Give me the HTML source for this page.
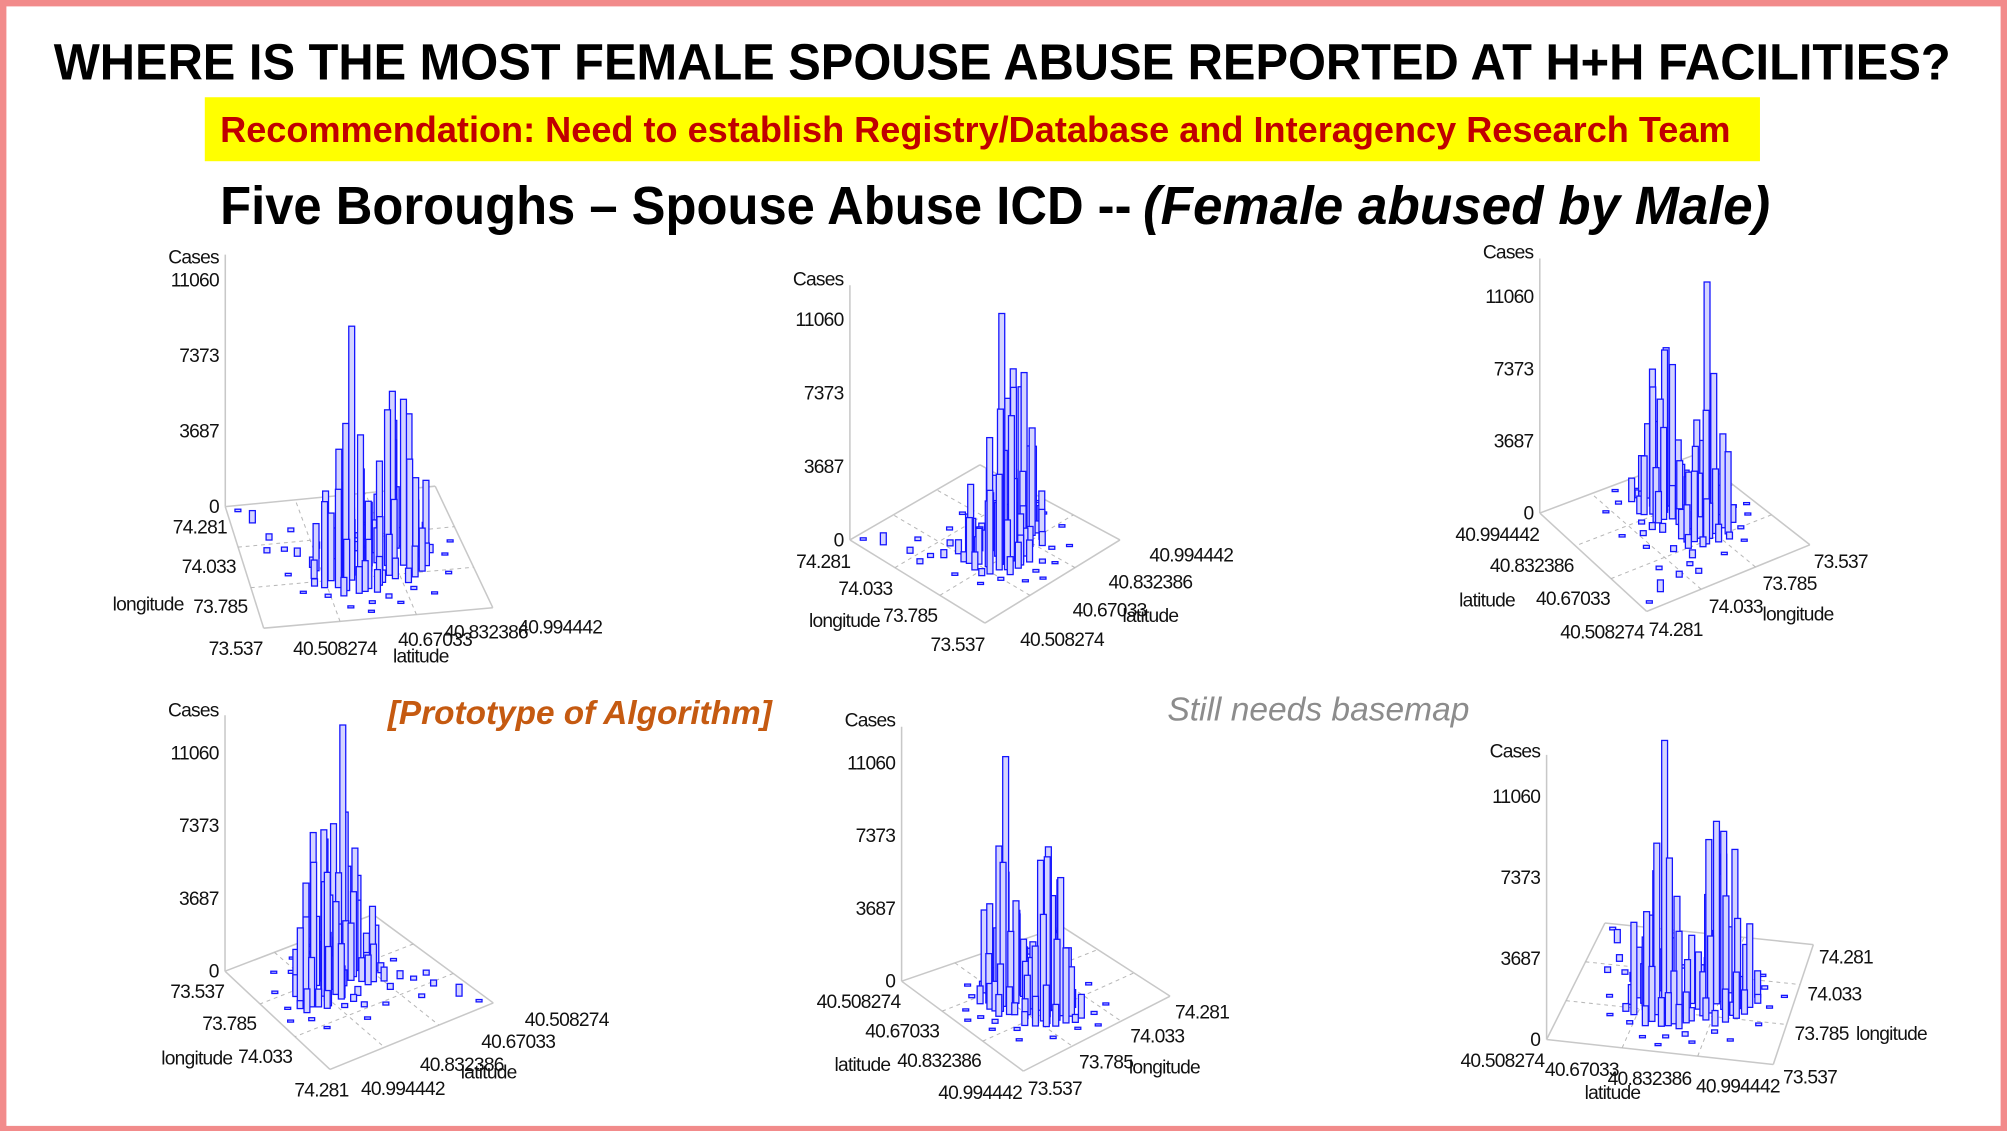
<!DOCTYPE html>
<html><head><meta charset="utf-8"><style>
html,body{margin:0;padding:0;background:#f28b8b;}
svg{display:block;}
</style></head><body>
<svg id="s" width="2007" height="1131" viewBox="0 0 1568 884" preserveAspectRatio="none" xmlns="http://www.w3.org/2000/svg" font-family="Liberation Sans, Arial, sans-serif">
<rect x="0" y="0" width="1568" height="884" fill="#f28b8b"/>
<rect x="5" y="5" width="1558" height="875" fill="#ffffff"/>
<text x="42" y="62" font-size="40" font-weight="bold" textLength="1482" lengthAdjust="spacingAndGlyphs" fill="#000">WHERE IS THE MOST FEMALE SPOUSE ABUSE REPORTED AT H+H FACILITIES?</text>
<rect x="160" y="76" width="1215" height="50" fill="#ffff00"/>
<text x="172" y="111" font-size="28" font-weight="bold" textLength="1180" lengthAdjust="spacingAndGlyphs" fill="#c00000">Recommendation: Need to establish Registry/Database and Interagency Research Team</text>
<text x="172" y="175" font-size="42" font-weight="bold" textLength="712" lengthAdjust="spacingAndGlyphs" fill="#000">Five Boroughs – Spouse Abuse ICD --</text>
<text x="893" y="175" font-size="42" font-weight="bold" font-style="italic" textLength="490" lengthAdjust="spacingAndGlyphs" fill="#000">(Female abused by Male)</text>
<text x="303" y="566" font-size="26" font-weight="bold" font-style="italic" textLength="300" lengthAdjust="spacingAndGlyphs" fill="#c55a11">[Prototype of Algorithm]</text>
<text x="912" y="563" font-size="26" font-style="italic" textLength="236" lengthAdjust="spacingAndGlyphs" fill="#8c8c8c">Still needs basemap</text>
<g id="charts"></g>
</svg>
<script>
const lat = [40.727,40.712,40.742,40.703,40.751,40.693,40.722,40.761,40.683,40.737,40.708,40.771,40.674,40.746,40.717,40.698,40.781,40.732,40.688,40.766,
40.829,40.849,40.815,40.868,40.839,40.858,40.805,40.878,40.824,40.849,40.888,40.810,40.863,40.897,40.834,40.795,40.873,
40.557,40.581,40.606,40.630,40.644,40.654,40.664,40.615,40.596,40.790,40.810,40.921,40.946,40.936,40.907,40.776,40.800,40.727,40.678,40.703,40.742,40.849,40.888,40.970,40.533,40.567,40.635,40.761,40.785,40.819,40.669,40.649,40.790,40.917,40.751,
40.664,40.684,40.756,40.776,40.693,40.732,40.795,40.903,40.883,40.800,40.858,40.912,40.820,40.844,40.659,40.712,40.771,40.873,40.805];
const lon = [73.775,73.760,73.745,73.805,73.797,73.738,73.835,73.760,73.783,73.850,73.716,73.820,73.820,73.701,73.879,73.686,73.730,73.805,73.850,73.864,
73.864,73.835,73.842,73.879,73.909,73.805,73.894,73.849,73.805,73.939,73.909,73.783,73.760,73.820,73.879,73.864,73.924,
74.169,74.058,73.983,73.946,73.760,73.872,73.686,73.723,73.835,73.649,73.611,73.983,73.872,73.760,74.058,74.021,74.095,74.058,73.983,73.611,73.574,73.686,73.649,73.946,74.244,73.983,74.095,73.946,73.969,73.983,73.924,73.805,73.745,73.894,73.626,
73.745,73.880,73.716,73.850,73.905,73.693,73.820,73.864,73.790,73.924,73.950,73.930,73.760,73.730,73.850,73.910,73.690,73.805,73.930];
const cases = [12400,7800,7300,6200,5200,4800,4300,3900,3300,2900,2500,2200,1800,1500,1200,900,1400,2700,1100,800,
8300,8100,7600,7000,6500,5400,4700,4100,3500,3000,2500,2000,1500,1100,5800,1700,900,
600,300,200,400,350,500,150,100,120,200,100,150,100,120,100,250,120,150,300,100,80,150,100,90,120,250,180,450,350,200,700,900,600,400,130,
4200,3600,2400,3100,1900,1300,2600,3800,2100,1600,900,1200,1000,700,2300,1500,1100,600,2800];
const latTicks = ["40.508274","40.67033","40.832386","40.994442"];
const lonTicks = ["73.537","73.785","74.033","74.281"];
const caseTicks = [0,3687,7373,11060];
const caseTickLabels = ["0","3687","7373","11060"];
const LATMIN = 40.508274, LATMAX = 40.994442, LONMIN = 73.537, LONMAX = 74.281, CMAX = 11060;

const views = [
 {p00:[206,491],p10:[385,475],p01:[176,396],p11:[340,380],ax:'p01',H:177,top:199,casesY:201,
  latPos:[[229,507],[311,500],[347,494],[405,490]],latT:[307,513],lonPos:[[163,507],[151,474],[142,443],[135,412]],lonT:[88,472]},
 {p00:[769.5,487],p10:[875,422],p01:[664,422],p11:[765.6,363.3],ax:'p01',H:172,top:223,casesY:218,
  latPos:[[797,500],[838,477],[866,455],[898,434]],latT:[877,481],lonPos:[[727,504],[690,481],[655,460],[622,439]],lonT:[632,485]},
 {p00:[1414,425.8],p10:[1324,355.5],p01:[1286.5,477.9],p11:[1203,401],ax:'p11',H:169,top:202,casesY:197,
  latPos:[[1219,494],[1200,468],[1164,442],[1137,418]],latT:[1140,469],lonPos:[[1417,439],[1377,456],[1335,474],[1288,492]],lonT:[1377,480]},
 {p00:[291.6,714.8],p10:[175.8,759.1],p01:[385.4,783.9],p11:[257.8,835.9],ax:'p10',H:170.6,top:559,casesY:555,
  latPos:[[410,797],[376,814],[328,832],[282,851]],latT:[360,838],lonPos:[[133,775],[158,800],[186,826],[230,852]],lonT:[126,827]},
 {p00:[704.4,766.9],p10:[799.5,837.2],p01:[829.4,724],p11:[914.1,778.6],ax:'p00',H:170.5,top:568,casesY:563,
  latPos:[[638,783],[676,806],[701,829],[733,854]],latT:[652,832],lonPos:[[803,851],[843,830],[883,810],[918,791]],lonT:[882,834]},
 {p00:[1208.3,812.5],p10:[1385.4,832],p01:[1253.9,721.4],p11:[1416.7,738.3],ax:'p00',H:190,top:590,casesY:587,
  latPos:[[1141,829],[1207,836],[1256,843],[1325,849]],latT:[1238,854],lonPos:[[1393,842],[1402,808],[1412,777],[1421,748]],lonT:[1450,808]}
];
const NS = "http://www.w3.org/2000/svg";
const root = document.getElementById('charts');
function mk(tag, attrs, parent){const e=document.createElementNS(NS,tag);for(const k in attrs)e.setAttribute(k,attrs[k]);parent.appendChild(e);return e;}
function proj(v,u,w){const a=v.p00,b=v.p10,c=v.p01,d=v.p11;
 return [a[0]*(1-u)*(1-w)+b[0]*u*(1-w)+c[0]*(1-u)*w+d[0]*u*w, a[1]*(1-u)*(1-w)+b[1]*u*(1-w)+c[1]*(1-u)*w+d[1]*u*w];}
function xu(la){return (la-LATMIN)/(LATMAX-LATMIN);}
function xv(lo){return (lo-LONMIN)/(LONMAX-LONMIN);}
function hy(v,c){return c/CMAX*v.H;}

views.forEach((v,ci)=>{
 const g = mk('g',{},root);
 
 
 const corner = v[v.ax];
 const edges=[[[0,0],[1,0]],[[1,0],[1,1]],[[1,1],[0,1]],[[0,1],[0,0]]];
 edges.forEach(e=>{const A=proj(v,e[0][0],e[0][1]),B=proj(v,e[1][0],e[1][1]);
  const l=mk('line',{x1:A[0],y1:A[1],x2:B[0],y2:B[1],stroke:'#c8c8c8','stroke-width':1.2},g);
  
  });
 [1/3,2/3].forEach(f=>{
  let A=proj(v,f,0),B=proj(v,f,1);
  let l=mk('line',{x1:A[0],y1:A[1],x2:B[0],y2:B[1],stroke:'#b8b8b8','stroke-width':0.8,'stroke-dasharray':'3,3'},g);
  
  
  A=proj(v,0,f);B=proj(v,1,f);
  l=mk('line',{x1:A[0],y1:A[1],x2:B[0],y2:B[1],stroke:'#b8b8b8','stroke-width':0.8,'stroke-dasharray':'3,3'},g);
  
  
 });
 const ax=mk('line',{x1:corner[0],y1:corner[1],x2:corner[0],y2:v.top,stroke:'#c8c8c8','stroke-width':1.2},g);
 
 
 caseTicks.forEach((c,i)=>{const y=corner[1]-hy(v,c);
  const t=mk('text',{x:corner[0]-5,y:y+5,'font-size':15,'text-anchor':'end',fill:'#111','letter-spacing':'-0.6'},g);
  t.textContent=caseTickLabels[i];
  
  });
 const ct=mk('text',{x:corner[0]-5,y:v.casesY+5,'font-size':15,'text-anchor':'end',fill:'#111','letter-spacing':'-0.6'},g);
 ct.textContent='Cases';
 
 
 latTicks.forEach((s,i)=>{const p=v.latPos[i];
  const t=mk('text',{x:p[0],y:p[1]+5,'font-size':15,fill:'#111','letter-spacing':'-0.6'},g);
  t.textContent=s;
  
  });
 lonTicks.forEach((s,i)=>{const p=v.lonPos[i];
  const t=mk('text',{x:p[0],y:p[1]+5,'font-size':15,fill:'#111','letter-spacing':'-0.6'},g);
  t.textContent=s;
  
  });
 let tt=mk('text',{x:v.latT[0],y:v.latT[1]+5,'font-size':15,fill:'#111','letter-spacing':'-0.6'},g);
 tt.textContent='latitude';
 
 
 tt=mk('text',{x:v.lonT[0],y:v.lonT[1]+5,'font-size':15,fill:'#111','letter-spacing':'-0.6'},g);
 tt.textContent='longitude';
 
 
 const idx=cases.map((c,i)=>i).map(i=>({i,p:proj(v,xu(lat[i]),xv(lon[i]))}));
 idx.sort((a,b)=>a.p[1]-b.p[1]);
 idx.forEach(o=>{const h=Math.max(1.6,hy(v,cases[o.i]));
  const r=mk('rect',{x:o.p[0]-2.3,y:o.p[1]-h,width:4.6,height:h,fill:'#d4d4ff',stroke:'#1414ff','stroke-width':1},g);
  
  });
});
</script>
</body></html>
